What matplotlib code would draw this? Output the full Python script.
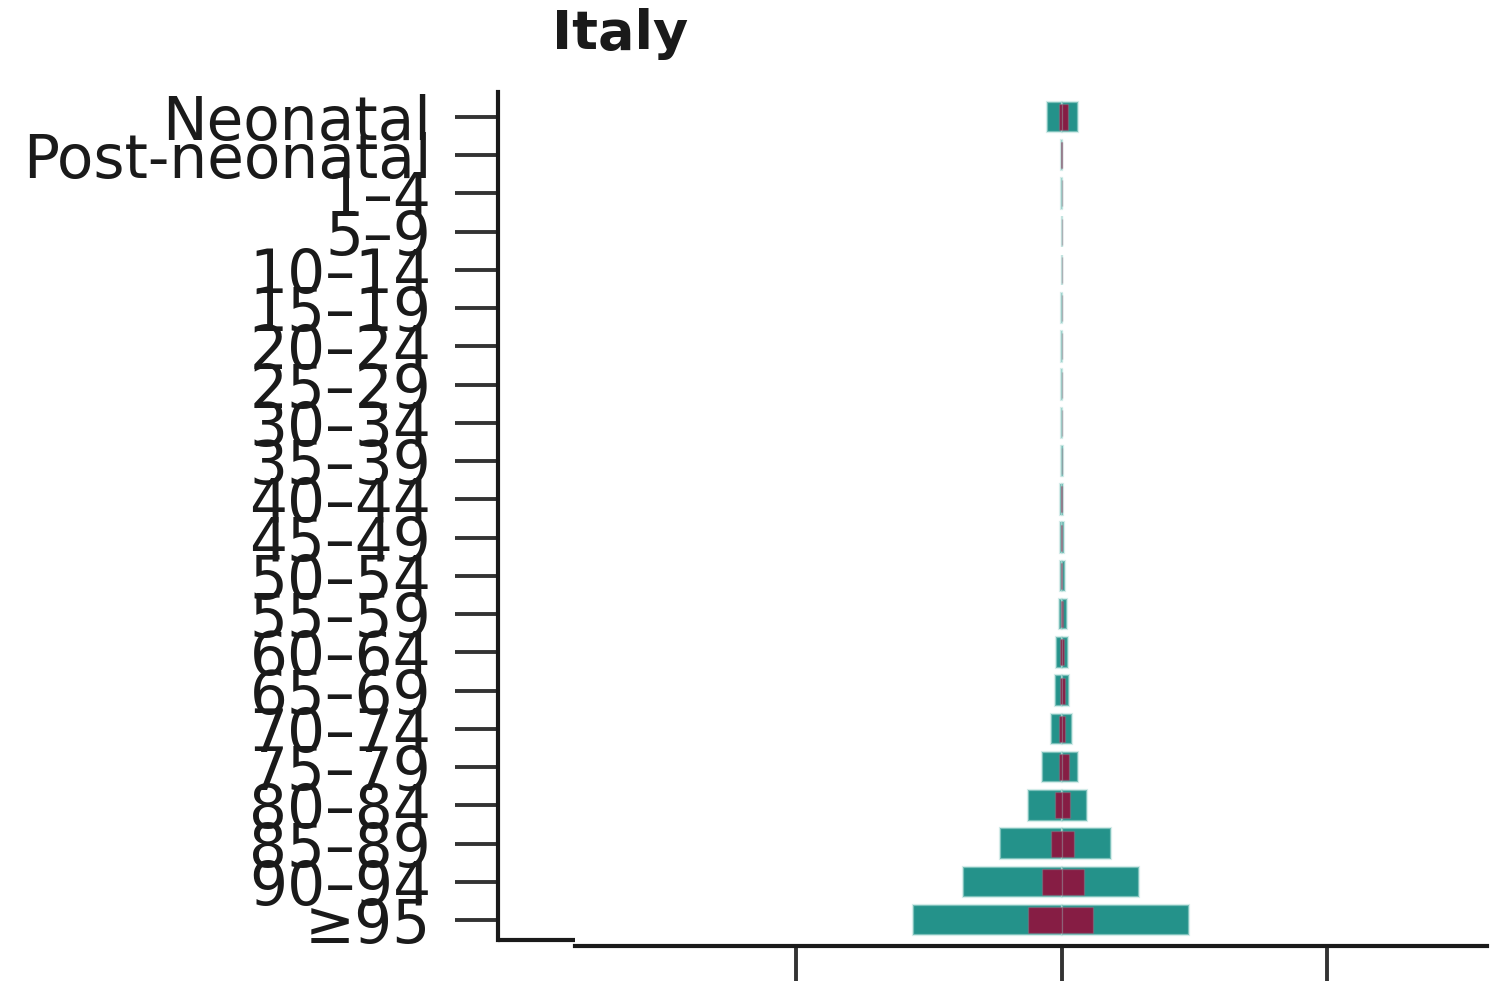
import matplotlib
matplotlib.use('Agg')
import matplotlib.pyplot as plt
from matplotlib.lines import Line2D
import numpy as np

plt.rcParams['font.family'] = ['DejaVu Sans']

# Age groups, top to bottom
ages = ['Neonatal', 'Post-neonatal', '1–4', '5–9', '10–14', '15–19', '20–24',
        '25–29', '30–34', '35–39', '40–44', '45–49', '50–54', '55–59',
        '60–64', '65–69', '70–74', '75–79', '80–84', '85–89', '90–94', '≥95']

# Teal (total) values, left side and right side
teal_left = [5.6, 0.4, 0.05, 0.03, 0.04, 0.08, 0.1, 0.15, 0.25, 0.4, 0.6,
             0.7, 0.7, 0.8, 2.2, 2.3, 4.1, 7.5, 12.8, 23.0, 37.0, 56.0]
teal_right = [6.2, 0.3, 0.05, 0.03, 0.04, 0.08, 0.1, 0.15, 0.25, 0.4, 0.7,
              0.9, 1.4, 2.0, 2.4, 2.8, 4.0, 6.2, 9.6, 18.4, 29.0, 48.0]

# Crimson (attributable) values, left side and right side
crim_left = [0.8, 0.05, 0.0, 0.0, 0.0, 0.0, 0.0, 0.0, 0.02, 0.03, 0.05,
             0.1, 0.2, 0.3, 0.5, 0.7, 0.8, 0.8, 2.3, 4.1, 7.5, 12.8]
crim_right = [2.5, 0.05, 0.0, 0.0, 0.0, 0.0, 0.0, 0.0, 0.02, 0.04, 0.08,
              0.15, 0.3, 0.5, 0.8, 1.1, 1.2, 2.6, 3.0, 4.5, 8.3, 11.7]

xticks = [-100, 0, 100]

teal = '#24928A'
crimson = '#861D44'
edge = (0.72, 0.88, 0.86, 0.6)
crim_edge = (0.6, 0.55, 0.6, 0.35)

fig = plt.figure(figsize=(14.99, 9.83), dpi=100)
ax = fig.add_axes([0.3322, 0.0437, 0.6598, 0.8627])

y = np.arange(len(ages))
h = 0.8
ax.barh(y, -np.array(teal_left), height=h, color=teal, edgecolor=edge, linewidth=1.6)
ax.barh(y, teal_right, height=h, color=teal, edgecolor=edge, linewidth=1.6)
ax.barh(y, -np.array(crim_left), height=h * 0.85, color=crimson,
        edgecolor=crim_edge, linewidth=1.0)
ax.barh(y, crim_right, height=h * 0.85, color=crimson,
        edgecolor=crim_edge, linewidth=1.0)

ax.set_xlim(-212, 160)
ax.set_ylim(len(ages) - 0.48, -0.65)
ax.set_yticks(y)
ax.set_yticklabels(ages, fontsize=43, color='#1a1a1a')
ax.set_xticks(xticks)
ax.set_xticklabels([])

ax.tick_params(axis='y', length=31, width=2.8, color='#333333', pad=17)
ax.tick_params(axis='x', length=25, width=2.8, color='#333333')

for s in ['top', 'right']:
    ax.spines[s].set_visible(False)
ax.spines['left'].set_linewidth(3)
ax.spines['left'].set_color('#1a1a1a')
ax.spines['bottom'].set_linewidth(3)
ax.spines['bottom'].set_color('#1a1a1a')
ax.spines['bottom'].set_position(('outward', 4))
ax.spines['bottom'].set_bounds(-183, 160)

# short foot at the bottom of the left spine
ax.add_line(Line2D([0, 0.078], [0, 0], transform=ax.transAxes, color='#1a1a1a',
                   linewidth=3, clip_on=False, solid_capstyle='butt'))

fig.text(0.414, 0.965, 'Italy', fontsize=39, fontweight='bold', ha='center', va='center',
         color='#1a1a1a')

fig.savefig('out.png', dpi=100)
